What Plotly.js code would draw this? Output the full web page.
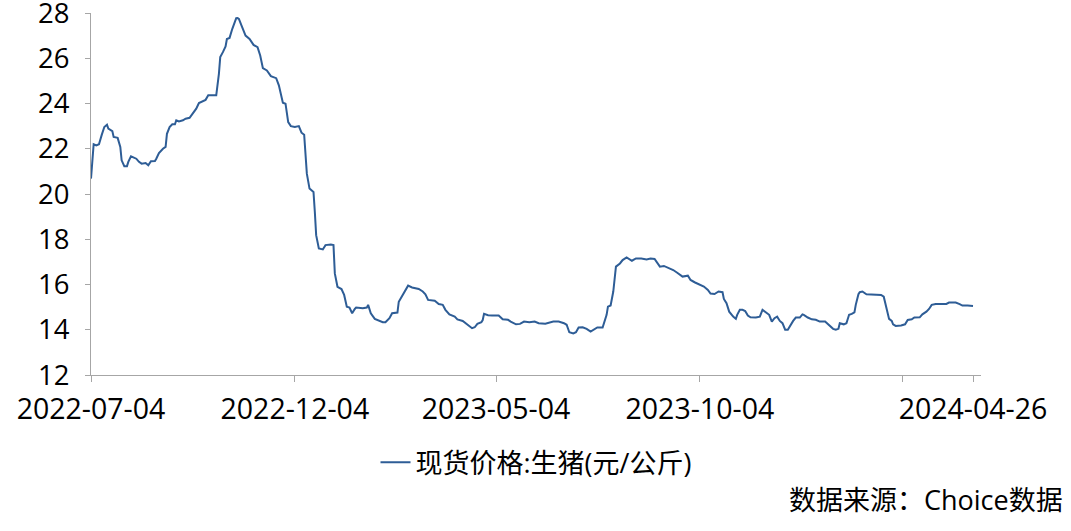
<!DOCTYPE html>
<html>
<head>
<meta charset="utf-8">
<script src="https://cdn.plot.ly/plotly-3.0.1.min.js"></script>
<style>html,body{margin:0;padding:0;background:#fff;}#chart{width:1071px;height:531px;}</style>
</head>
<body>
<div id="chart"></div>
<script>
// Series start date; offsets are days after it
const startDate = '2022-07-04';
const dayOffset = [0,2,4,6,8,10,12,13,16,17,20,22,23,25,27,28,30,33,34,36,38,41,43,45,48,49,51,54,56,57,59,61,63,64,66,69,71,74,76,79,81,84,86,88,91,94,96,97,99,101,102,104,106,108,109,110,111,113,116,119,122,125,127,129,132,135,139,141,143,144,146,147,148,150,153,156,158,160,161,162,164,167,168,169,171,174,176,180,182,183,185,188,190,192,194,196,198,199,204,207,208,210,213,216,219,221,224,226,230,231,234,236,238,241,244,246,249,251,253,255,258,261,264,266,269,273,275,279,281,283,286,288,290,293,294,295,298,301,306,309,313,315,319,322,325,329,333,336,341,347,351,355,357,359,362,364,366,369,372,375,378,380,384,387,388,390,392,394,397,399,402,404,406,409,413,417,420,423,425,427,430,434,437,440,444,448,450,453,457,460,463,465,468,471,474,475,477,479,482,484,485,487,489,491,493,495,499,502,504,505,507,509,511,513,515,517,519,521,523,525,527,529,532,534,535,538,541,544,547,551,554,557,559,561,562,565,567,569,571,573,574,576,577,579,582,586,589,593,595,597,599,601,602,604,608,611,613,616,618,622,624,627,629,631,634,638,642,644,647,649,652,654,658,662];
const price = [20.68,22.20,22.15,22.20,22.60,22.96,23.06,22.89,22.78,22.52,22.48,22.08,21.49,21.23,21.23,21.42,21.67,21.61,21.56,21.42,21.34,21.37,21.27,21.45,21.46,21.56,21.81,22.00,22.08,22.66,22.96,23.08,23.08,23.26,23.21,23.26,23.33,23.37,23.55,23.77,24.02,24.09,24.16,24.36,24.36,24.36,25.31,26.05,26.27,26.52,26.85,26.90,27.29,27.59,27.77,27.78,27.74,27.44,27.00,26.85,26.59,26.49,26.12,25.56,25.46,25.21,25.12,24.80,24.36,24.03,23.99,23.62,23.18,23.00,22.96,23.00,22.71,22.62,21.86,20.90,20.24,20.09,19.21,18.18,17.59,17.55,17.74,17.77,17.74,16.49,15.90,15.80,15.54,15.02,14.98,14.73,14.92,14.98,14.95,14.98,15.10,14.73,14.48,14.39,14.33,14.33,14.51,14.73,14.76,15.24,15.54,15.72,15.95,15.87,15.83,15.80,15.69,15.57,15.32,15.29,15.28,15.14,15.10,14.88,14.68,14.58,14.46,14.39,14.29,14.19,14.07,14.11,14.26,14.33,14.43,14.70,14.64,14.63,14.63,14.46,14.44,14.36,14.24,14.26,14.36,14.33,14.36,14.29,14.27,14.36,14.36,14.29,14.22,13.89,13.84,13.89,14.10,14.11,14.04,13.92,14.04,14.10,14.10,14.66,15.02,15.07,15.69,16.79,16.93,17.08,17.20,17.13,17.05,17.15,17.15,17.11,17.15,17.13,16.93,16.79,16.82,16.71,16.64,16.52,16.35,16.39,16.20,16.10,16.01,15.91,15.76,15.60,15.58,15.69,15.66,15.36,15.17,14.80,14.58,14.48,14.66,14.88,14.88,14.83,14.63,14.55,14.54,14.58,14.88,14.83,14.77,14.66,14.36,14.51,14.58,14.39,14.29,14.00,14.00,14.22,14.39,14.54,14.54,14.68,14.66,14.54,14.46,14.44,14.36,14.36,14.19,14.04,14.00,14.04,14.29,14.24,14.29,14.66,14.70,14.77,15.10,15.57,15.66,15.69,15.57,15.57,15.57,15.54,15.46,14.95,14.48,14.39,14.24,14.17,14.19,14.24,14.43,14.46,14.54,14.55,14.68,14.80,14.92,15.10,15.14,15.14,15.14,15.20,15.21,15.20,15.13,15.07,15.07,15.05];
const tickDates = ['2022-07-04','2022-12-04','2023-05-04','2023-10-04','2024-03-04','2024-04-26'];
const tickLabels = ['2022-07-04','2022-12-04','2023-05-04','2023-10-04','','2024-04-26'];
const yTicks = [12,14,16,18,20,22,24,26,28];
const seriesName = '现货价格:生猪(元/公斤)';
const sourceText = '数据来源：Choice数据';

function addDays(s, n) {
  const d = new Date(s + 'T00:00:00Z');
  d.setUTCDate(d.getUTCDate() + n);
  return d.toISOString().slice(0, 10);
}
const dates = dayOffset.map(n => addDays(startDate, n));

const FONT = 'Open Sans, Noto Sans CJK SC, sans-serif';
const AX = '#a6a6a6';

Plotly.newPlot('chart', [{
  x: dates, y: price, type: 'scatter', mode: 'lines', name: seriesName,
  line: {color: '#2e5d96', width: 2}
}], {
  width: 1071, height: 531,
  margin: {l: 91, r: 90, t: 13, b: 156},
  paper_bgcolor: '#fff', plot_bgcolor: '#fff',
  font: {family: FONT, color: '#000'},
  showlegend: true,
  legend: {orientation: 'h', x: 0.5, xanchor: 'center', y: -0.242, yanchor: 'middle',
           font: {family: FONT, size: 27, color: '#000'}},
  xaxis: {type: 'date', range: ['2022-07-04', '2024-05-02'],
          tickmode: 'array', tickvals: tickDates, ticktext: tickLabels,
          showgrid: false, zeroline: false, showline: true, linecolor: AX, linewidth: 1,
          ticks: 'outside', ticklen: 6, tickcolor: AX, tickwidth: 1, ticklabelstandoff: 3,
          ticklabeloverflow: 'allow',
          tickfont: {family: FONT, size: 28.5, color: '#000'}, fixedrange: true},
  yaxis: {range: [12, 28], tickmode: 'array', tickvals: yTicks,
          showgrid: false, zeroline: false, showline: true, linecolor: AX, linewidth: 1,
          ticks: 'outside', ticklen: 5, tickcolor: AX, tickwidth: 1,
          ticklabeloverflow: 'allow',
          tickfont: {family: FONT, size: 27.5, color: '#000'}, ticklabelstandoff: 10, fixedrange: true},
  annotations: [{text: sourceText, xref: 'paper', yref: 'paper', x: 1.094, y: -0.345,
                 xanchor: 'right', yanchor: 'middle', showarrow: false,
                 font: {family: FONT, size: 27, color: '#000'}}]
}, {displayModeBar: false, staticPlot: true});
</script>
</body>
</html>
